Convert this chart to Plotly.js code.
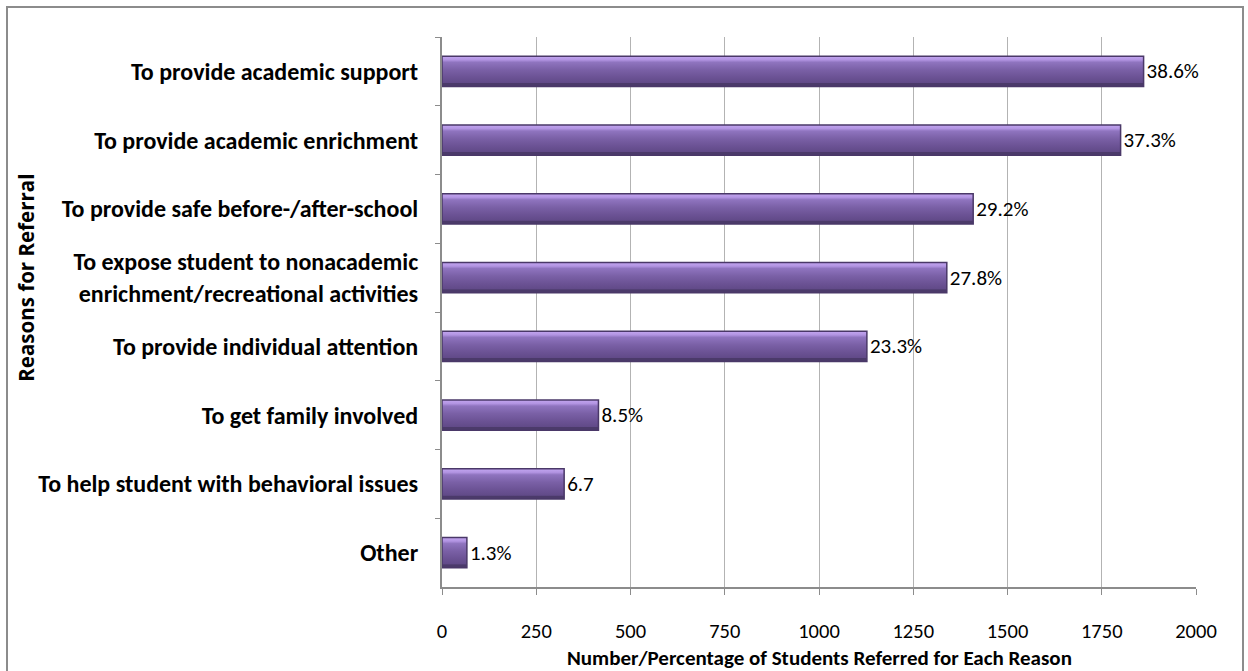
<!DOCTYPE html>
<html>
<head>
<meta charset="utf-8">
<script src="https://cdn.plot.ly/plotly-3.0.1.min.js"></script>
<style>
  html, body { margin: 0; padding: 0; background: #ffffff; overflow: hidden; width: 1248px; height: 671px; }
  #frame { position: absolute; left: 6px; top: 6px; width: 1234px; height: 690px; border: 2px solid #8c8c8c; background: #fff; }
  #chart { width: 1234px; height: 690px; }
</style>
</head>
<body>
<div id="frame"><div id="chart"></div></div>
<script>
const categories = [
  "To provide academic support",
  "To provide academic enrichment",
  "To provide safe before-/after-school",
  "To expose student to nonacademic<br>enrichment/recreational activities",
  "To provide individual attention",
  "To get family involved",
  "To help student with behavioral issues",
  "Other"
];
const counts = [1861, 1800, 1409, 1339, 1127, 415, 324, 66];
const pctLabels = ["38.6%", "37.3%", "29.2%", "27.8%", "23.3%", "8.5%", "6.7", "1.3%"];
const xTicks = [0, 250, 500, 750, 1000, 1250, 1500, 1750, 2000];
const yTitle = "Reasons for Referral";
const xTitle = "Number/Percentage of Students Referred for Each Reason";

const FONT = "Carlito, Calibri, 'Liberation Sans Narrow', sans-serif";

const trace = {
  type: "bar",
  orientation: "h",
  y: categories,
  x: counts,
  text: pctLabels,
  textposition: "outside",
  cliponaxis: false,
  textfont: { family: FONT, size: 21, color: "#000000" },
  marker: { color: "#6f5698", line: { color: "#4a3868", width: 1.5 } },
  hoverinfo: "x+y"
};

const layout = {
  width: 1234,
  height: 690,
  margin: { l: 434, r: 46, t: 29, b: 111 },
  paper_bgcolor: "#ffffff",
  plot_bgcolor: "#ffffff",
  showlegend: false,
  bargap: 0.56,
  font: { family: FONT, color: "#000000" },
  xaxis: {
    range: [0, 2000],
    tickvals: xTicks,
    ticktext: xTicks.map(String),
    showgrid: true,
    gridcolor: "#b3b3b3",
    gridwidth: 1,
    zeroline: false,
    showline: true,
    linecolor: "#8c8c8c",
    linewidth: 2,
    ticks: "outside",
    ticklen: 6,
    tickcolor: "#8c8c8c",
    tickfont: { family: FONT, size: 20.5, color: "#000000" },
    ticklabelstandoff: 18,
    fixedrange: true
  },
  yaxis: {
    autorange: "reversed",
    type: "category",
    showgrid: false,
    zeroline: false,
    showline: true,
    linecolor: "#8c8c8c",
    linewidth: 2,
    ticks: "outside",
    tickson: "boundaries",
    ticklen: 5,
    tickcolor: "#8c8c8c",
    tickfont: { family: FONT, size: 24, color: "#000000", weight: "bold" },
    ticklabelstandoff: 17,
    fixedrange: true
  },
  annotations: [
    {
      text: "<b>" + yTitle + "</b>",
      textangle: -90,
      xref: "paper", yref: "paper",
      x: -0.552, y: 0.562,
      xanchor: "center", yanchor: "middle",
      showarrow: false,
      font: { family: "'Open Sans', sans-serif", size: 20.5, color: "#000000" }
    },
    {
      text: "<b>" + xTitle + "</b>",
      xref: "paper", yref: "paper",
      x: 0.5, y: -0.129,
      xanchor: "center", yanchor: "middle",
      showarrow: false,
      font: { family: FONT, size: 21, color: "#000000" }
    }
  ]
};

Plotly.newPlot("chart", [trace], layout, { displayModeBar: false, staticPlot: true }).then(function (gd) {
  const svg = gd.querySelector("svg.main-svg");
  const ns = "http://www.w3.org/2000/svg";
  let defs = svg.querySelector("defs");
  if (!defs) { defs = document.createElementNS(ns, "defs"); svg.insertBefore(defs, svg.firstChild); }
  const grad = document.createElementNS(ns, "linearGradient");
  grad.setAttribute("id", "barGrad");
  grad.setAttribute("x1", "0"); grad.setAttribute("y1", "0");
  grad.setAttribute("x2", "0"); grad.setAttribute("y2", "1");
  const stops = [
    [0, "#c3a6f0"], [0.12, "#b294e2"], [0.2, "#8f74bf"], [0.45, "#7a60a6"],
    [0.7, "#6b5294"], [0.88, "#614a88"], [0.9, "#4b3a6a"], [1, "#4b3a6a"]
  ];
  stops.forEach(function (s) {
    const st = document.createElementNS(ns, "stop");
    st.setAttribute("offset", s[0]);
    st.setAttribute("stop-color", s[1]);
    grad.appendChild(st);
  });
  defs.appendChild(grad);
  gd.querySelectorAll(".bars .point path").forEach(function (p) {
    p.style.fill = "url(#barGrad)";
  });
});
</script>
</body>
</html>
